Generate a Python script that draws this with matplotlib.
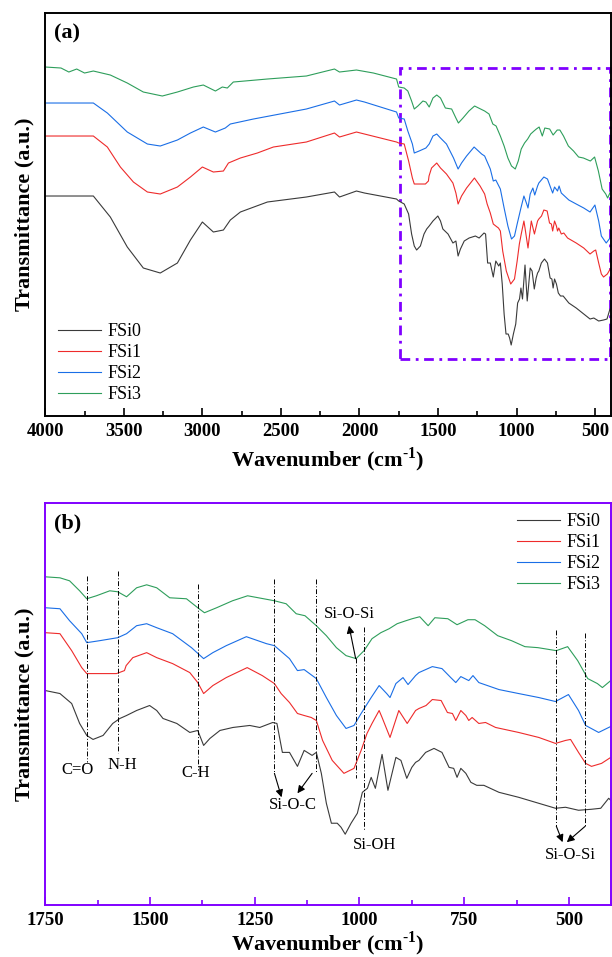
import matplotlib
matplotlib.use("Agg")
import matplotlib.pyplot as plt
from matplotlib.patches import Rectangle

plt.rcParams['font.family'] = ['Liberation Serif', 'DejaVu Serif']
plt.rcParams['mathtext.fontset'] = 'custom'
plt.rcParams['mathtext.rm'] = 'Liberation Serif:bold'
plt.rcParams['mathtext.bf'] = 'Liberation Serif:bold'

# FTIR spectra, stacked transmittance in a.u.
fsi0_wn = [4000, 3694, 3586, 3478, 3376, 3268, 3159, 3076, 3000, 2930, 2866, 2822, 2758, 2586,
           2338, 2159, 2127, 2019, 1968, 1764, 1750, 1715, 1687, 1668, 1651, 1636, 1612, 1589,
           1572, 1556, 1532, 1501, 1484, 1469, 1436, 1405, 1386, 1372, 1357, 1333, 1302, 1262,
           1238, 1207, 1197, 1184, 1167, 1148, 1132, 1113, 1103, 1091, 1079, 1067, 1053, 1044,
           1034, 1020, 1005, 993, 981, 972, 962, 946, 932, 913, 901, 887, 875, 866, 858, 842,
           822, 803, 786, 775, 767, 758, 746, 734, 720, 703, 667, 620, 572, 532, 508, 477, 446,
           424, 405, 400]
fsi0_t = [220, 220, 199, 169, 148, 143, 153, 176, 194, 184, 186, 196, 204, 214,
          219, 224, 219, 225, 223, 217, 215, 212, 202, 182, 170, 166, 170, 182,
          187, 190, 195, 200, 195, 187, 182, 173, 175, 160, 167, 175, 178, 180,
          178, 183, 182, 153, 153, 139, 155, 150, 153, 132, 102, 82, 82, 78,
          71, 82, 92, 113, 117, 128, 117, 151, 115, 148, 145, 127, 138, 143, 145, 153,
          157, 153, 138, 137, 128, 137, 132, 123, 120, 120, 113, 108, 102, 97, 98, 95, 96,
          97, 107, 105]

fsi1_wn = [4000, 3694, 3605, 3522, 3439, 3350, 3268, 3159, 3076, 3000, 2930, 2866, 2834, 2758,
           2650, 2548, 2338, 2159, 2127, 2019, 1968, 1764, 1750, 1715, 1687, 1663, 1651, 1620,
           1580, 1561, 1557, 1541, 1508, 1484, 1446, 1405, 1386, 1372, 1350, 1318, 1268, 1232,
           1203, 1187, 1167, 1148, 1132, 1115, 1103, 1088, 1065, 1037, 1013, 996, 982, 970, 953,
           946, 927, 906, 886, 866, 858, 841, 826, 805, 790, 778, 770, 758, 746, 739, 731, 715,
           699, 675, 620, 572, 532, 508, 496, 477, 460, 446, 422, 400]
fsi1_t = [280, 280, 269, 249, 234, 224, 222, 229, 239, 249, 244, 245, 253, 258,
          263, 269, 274, 283, 279, 284, 282, 274, 273, 272, 255, 238, 232, 232,
          232, 235, 240, 248, 253, 248, 242, 233, 223, 212, 220, 228, 238, 230,
          222, 212, 203, 192, 190, 188, 185, 165, 145, 132, 137, 155, 172, 182, 195,
          188, 168, 195, 182, 195, 197, 200, 206, 205, 193, 192, 185, 195, 190, 185, 188, 182,
          183, 178, 173, 168, 162, 165, 166, 153, 142, 139, 142, 148]

fsi2_wn = [4000, 3694, 3605, 3478, 3350, 3268, 3159, 3076, 2994, 2917, 2854, 2822, 2675, 2338,
           2159, 2127, 2019, 1968, 1764, 1750, 1715, 1692, 1663, 1651, 1620, 1577, 1556, 1532,
           1508, 1484, 1446, 1401, 1372, 1350, 1318, 1270, 1222, 1203, 1167, 1148, 1132, 1103,
           1079, 1055, 1032, 1013, 996, 972, 953, 935, 927, 913, 896, 884, 866, 858, 826, 803,
           782, 770, 758, 739, 729, 715, 667, 620, 572, 532, 501, 477, 460, 429, 400]
fsi2_t = [313, 313, 303, 284, 272, 270, 276, 283, 289, 284, 288, 292, 297, 307,
          315, 311, 316, 314, 304, 298, 297, 285, 272, 263, 265, 268, 272, 280,
          282, 278, 272, 258, 247, 253, 260, 269, 262, 260, 247, 235, 236, 227,
          208, 190, 177, 180, 192, 208, 220, 212, 208, 222, 228, 221, 230, 233, 239, 237,
          228, 223, 229, 225, 230, 223, 216, 212, 208, 204, 211, 195, 180, 173, 179]

fsi3_wn = [4000, 3900, 3850, 3800, 3750, 3694, 3586, 3478, 3376, 3255, 3159, 3057, 2994, 2917,
           2873, 2841, 2803, 2586, 2338, 2159, 2127, 2019, 1911, 1764, 1750, 1715, 1692, 1668,
           1651, 1628, 1596, 1577, 1556, 1532, 1508, 1484, 1453, 1413, 1386, 1370, 1341, 1303,
           1267, 1203, 1175, 1151, 1130, 1103, 1079, 1055, 1032, 1008, 989, 970, 949, 929, 910,
           889, 874, 856, 836, 820, 789, 767, 741, 724, 701, 670, 637, 605, 574, 530, 503, 479,
           455, 432, 420, 400]
fsi3_t = [349, 348, 344, 347, 343, 345, 341, 333, 324, 320, 324, 329, 331, 325,
          329, 328, 334, 337, 340, 347, 344, 346, 343, 337, 329, 328, 325, 315,
          307, 310, 315, 314, 309, 318, 321, 318, 308, 307, 298, 293, 298, 305,
          310, 305, 302, 292, 290, 280, 270, 258, 250, 247, 255, 267, 273, 277, 282,
          285, 287, 289, 280, 288, 287, 281, 286, 286, 280, 270, 265, 259, 258, 255, 259, 245,
          227, 222, 218, 225]

labels = ['FSi0', 'FSi1', 'FSi2', 'FSi3']
colors = ['#3a3a3a', '#ee2b2b', '#1a6ee6', '#2e9e5b']
series = [(fsi0_wn, fsi0_t), (fsi1_wn, fsi1_t), (fsi2_wn, fsi2_t), (fsi3_wn, fsi3_t)]

purple = '#8000ff'
xlabel = r'Wavenumber (cm$^{\text{-}1}$)'

fig = plt.figure(figsize=(6.12, 9.57), dpi=100)
ax1 = fig.add_axes([0.074, 0.5653, 0.924, 0.4211])
ax2 = fig.add_axes([0.074, 0.0543, 0.924, 0.4201])

for ax in (ax1, ax2):
    for (wn, t), lab, c in zip(series, labels, colors):
        ax.plot(wn, t, color=c, lw=0.8, label=lab)
    ax.set_ylim(0, 403)
    ax.set_yticks([])
    ax.set_ylabel('Transmittance (a.u.)', fontsize=16, fontweight='bold', labelpad=8)
    ax.tick_params(axis='x', which='major', direction='in', length=6, width=1.2,
                   labelsize=13.5, pad=5)
    ax.tick_params(axis='x', which='minor', direction='in', length=3.5, width=1.2)

ax1.set_xlabel(xlabel, fontsize=16, fontweight='bold', labelpad=4)
ax2.set_xlabel(xlabel, fontsize=16, fontweight='bold', labelpad=0)

# panel (a)
ax1.set_xlim(4000, 400)
ax1.set_xticks([4000, 3500, 3000, 2500, 2000, 1500, 1000, 500])
ax1.set_xticks([3750, 3250, 2750, 2250, 1750, 1250, 750], minor=True)
ax1.set_xticklabels(['4000', '3500', '3000', '2500', '2000', '1500', '1000', '500'],
                    fontweight='bold')
for s in ax1.spines.values():
    s.set_linewidth(1.4)
ax1.text(0.016, 0.975, '(a)', transform=ax1.transAxes, fontsize=16, fontweight='bold',
         ha='left', va='top')
ax1.add_patch(Rectangle((1745, 57), 402 - 1745, 291, fill=False, edgecolor=purple,
                        lw=2.0, ls=(0, (3.5, 2, 1, 2)), clip_on=False))
ax1.legend(loc='lower left', frameon=False, fontsize=13, handlelength=2.4,
           handletextpad=0.35, labelspacing=0.22, borderaxespad=0.3)

# panel (b)
ax2.set_xlim(1750, 400)
ax2.set_xticks([1750, 1500, 1250, 1000, 750, 500])
ax2.set_xticks([1625, 1375, 1125, 875, 625], minor=True)
ax2.set_xticklabels(['1750', '1500', '1250', '1000', '750', '500'], fontweight='bold')
for s in ax2.spines.values():
    s.set_color(purple)
    s.set_linewidth(1.4)
ax2.tick_params(axis='x', which='both', color=purple)
ax2.text(0.016, 0.975, '(b)', transform=ax2.transAxes, fontsize=16, fontweight='bold',
         ha='left', va='top')
ax2.legend(loc='upper right', frameon=False, fontsize=13, handlelength=2.4,
           handletextpad=0.35, labelspacing=0.22, borderaxespad=0.15)

# band assignments
vls = (0, (5, 2, 1, 2))
band_lines = [(1651, 330, 143), (1576, 335, 152), (1386, 322, 135), (1203, 327, 132),
              (1104, 327, 132), (1009, 248, 127), (990, 279, 75), (530, 276, 79),
              (461, 273, 79)]
for x, y0, y1 in band_lines:
    ax2.plot([x, x], [y0, y1], color='black', lw=0.7, ls=vls)

fs = 12
ax2.text(1672, 135, 'C=O', fontsize=fs, ha='center', va='center')
ax2.text(1567, 140, 'N-H', fontsize=fs, ha='center', va='center')
ax2.text(1391, 132, 'C-H', fontsize=fs, ha='center', va='center')
ax2.text(1160, 100, 'Si-O-C', fontsize=fs, ha='center', va='center')
ax2.text(965, 60, 'Si-OH', fontsize=fs, ha='center', va='center')
ax2.text(496, 50, 'Si-O-Si', fontsize=fs, ha='center', va='center')
ax2.text(1025, 292, 'Si-O-Si', fontsize=fs, ha='center', va='center')

arw = dict(arrowstyle='-|>', color='black', lw=0.8, mutation_scale=11, shrinkA=0, shrinkB=0)
ax2.annotate('', xy=(1186, 108), xytext=(1203, 132), arrowprops=arw)
ax2.annotate('', xy=(1148, 112), xytext=(1113, 132), arrowprops=arw)
ax2.annotate('', xy=(1025, 280), xytext=(1009, 247), arrowprops=arw)
ax2.annotate('', xy=(515, 63), xytext=(530, 79), arrowprops=arw)
ax2.annotate('', xy=(505, 63), xytext=(461, 79), arrowprops=arw)

fig.savefig('out.png', dpi=100)
